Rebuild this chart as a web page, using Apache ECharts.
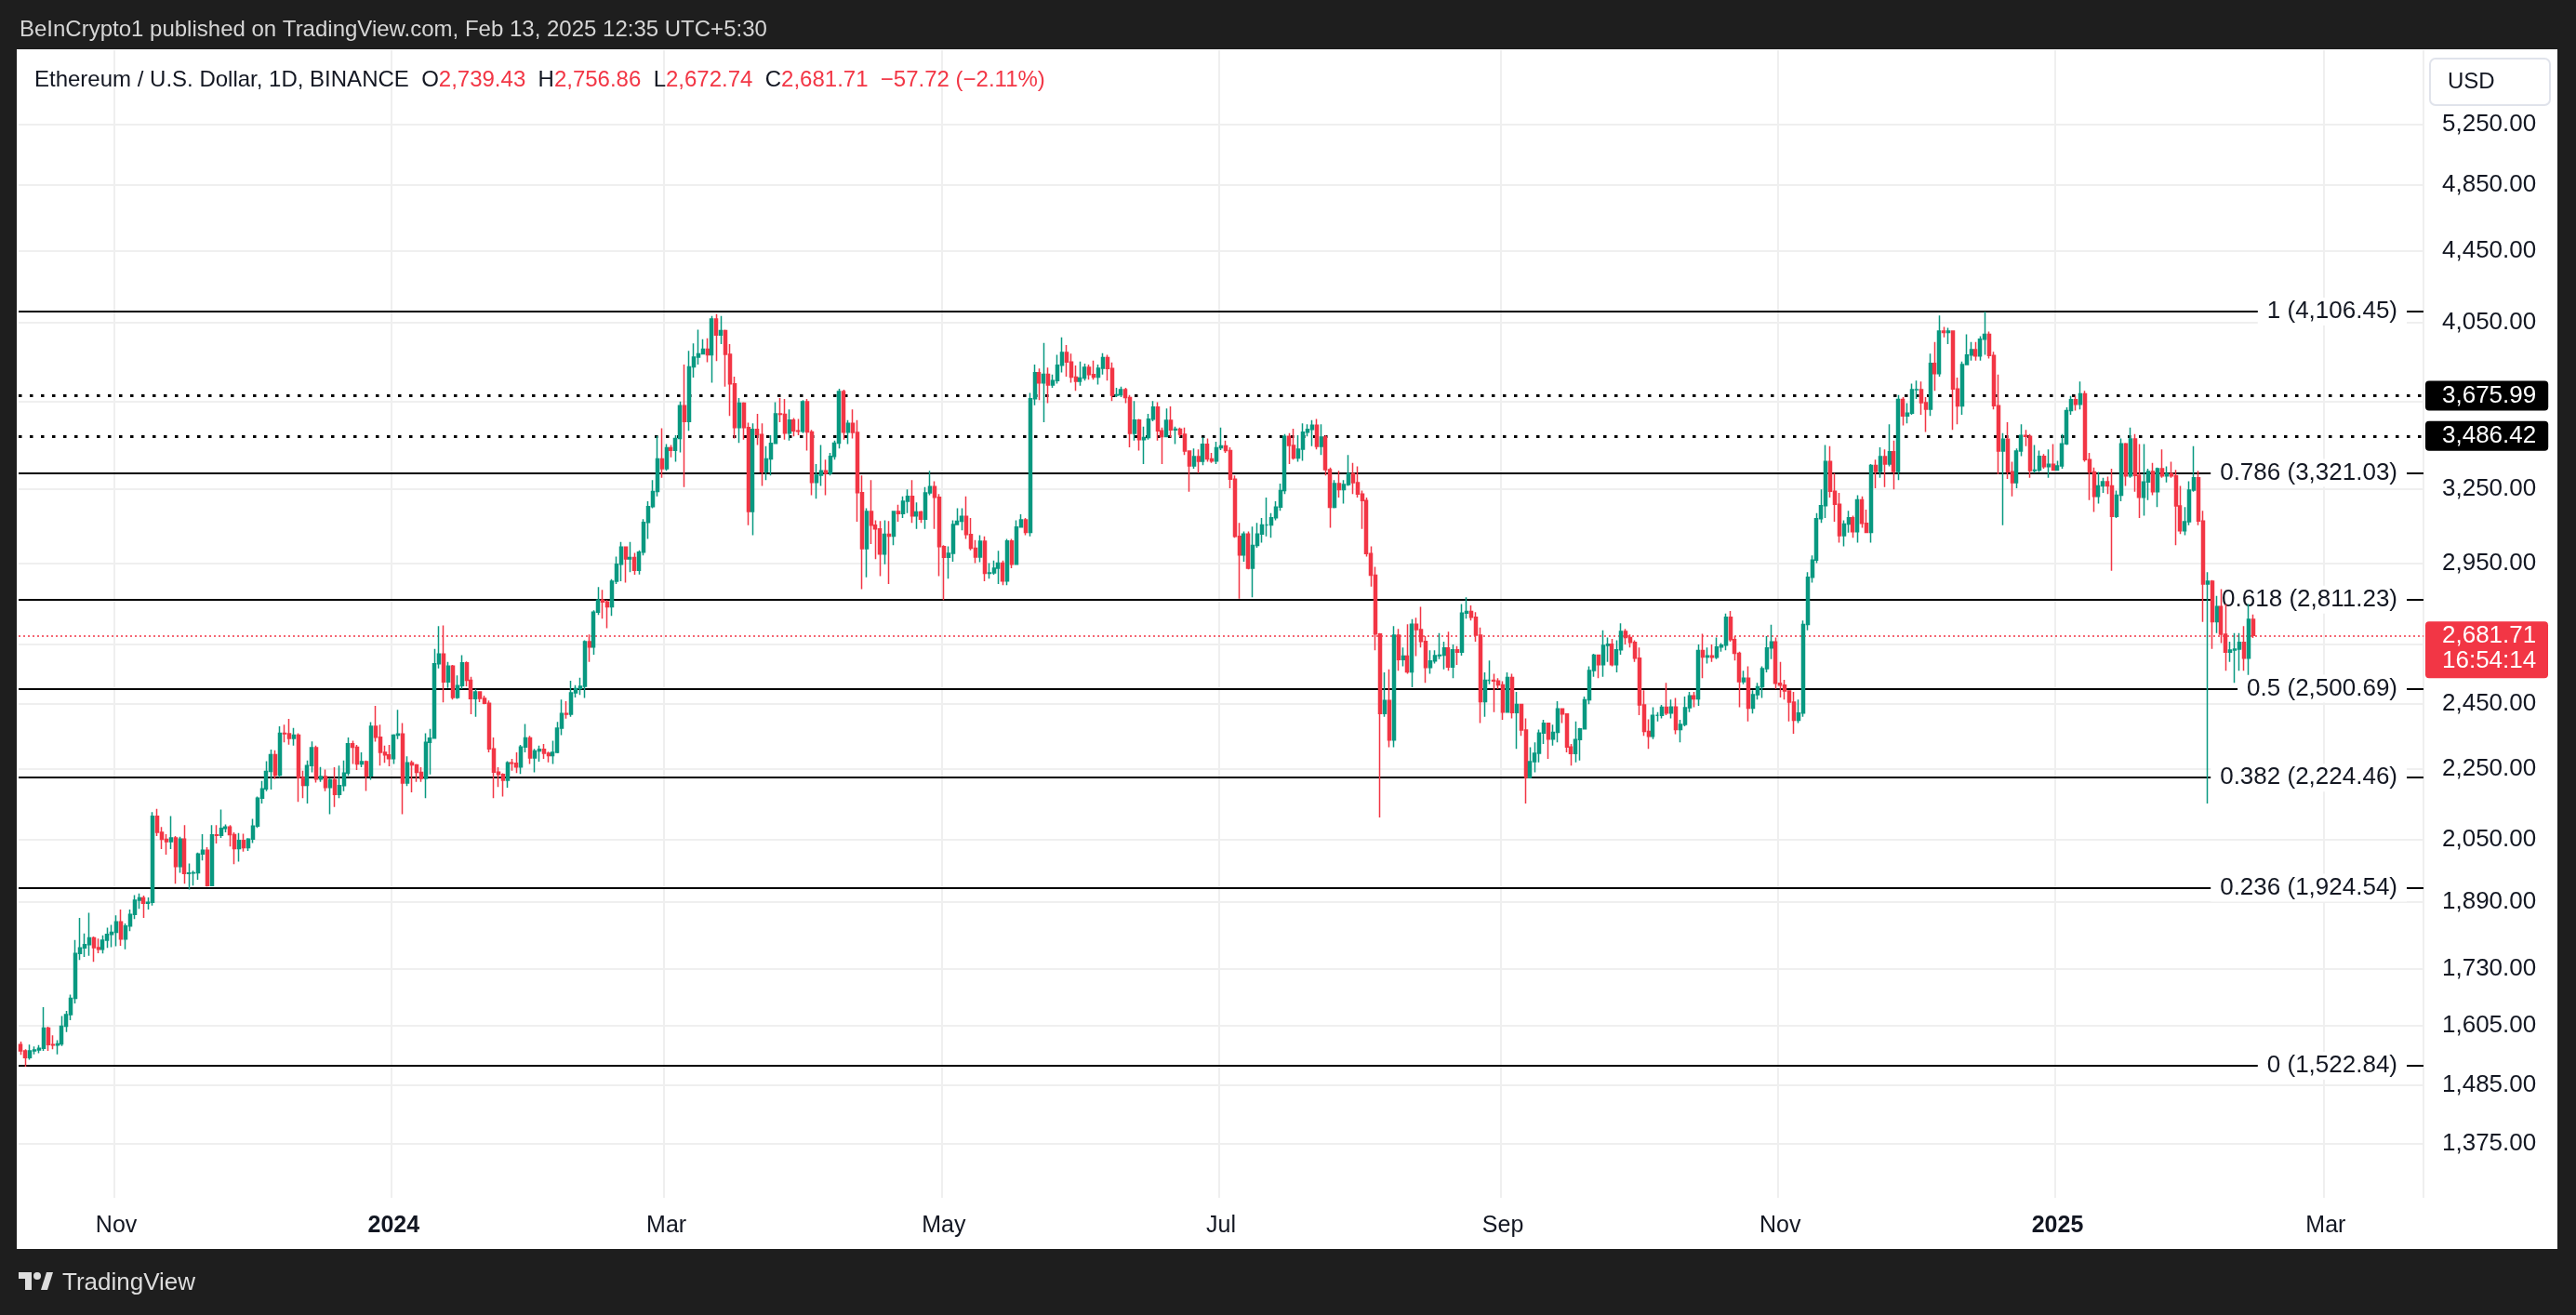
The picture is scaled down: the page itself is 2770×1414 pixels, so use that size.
<!DOCTYPE html>
<html>
<head>
<meta charset="utf-8">
<script src="https://cdn.jsdelivr.net/npm/echarts@6/dist/echarts.min.js"></script>
<style>
html,body{margin:0;padding:0;background:#1e1e1e;}
#c{width:2770px;height:1414px;}
</style>
</head>
<body>
<div id="c"></div>
<script>
// ---------------- DATA ----------------
const startDate = [2023, 10, 11];     // first candle (Y, M, D)
const totalSlots = 529;               // daily slots on the time axis (incl. empty future days)
const firstOpen = 1566;

// daily closes, Oct 11 2023 -> Feb 13 2025 (one row per month)
const closes = [
  1553,1539,1553,1555,1558,1600,1566,1565,1567,1604,1629,1664,1765,1778,1786,1802,1779,1775,1796,1810,1815,
  1840,1799,1830,1858,1893,1899,1886,1888,2114,2070,2051,2045,2055,1979,2052,1961,1962,1963,2012,2022,1930,2063,2062,2081,2085,2064,2026,2048,2029,2052,
  2087,2165,2192,2243,2293,2232,2358,2357,2342,2352,2225,2202,2260,2314,2220,2228,2196,2218,2176,2201,2238,2326,2315,2265,2272,2230,2380,2346,2300,2292,2281,
  2352,2356,2209,2268,2262,2240,2222,2330,2343,2584,2617,2523,2576,2472,2511,2587,2528,2468,2490,2469,2453,2310,2241,2234,2217,2268,2267,2256,2316,2344,2283,
  2304,2309,2297,2290,2300,2374,2420,2418,2487,2501,2508,2660,2641,2765,2810,2803,2785,2880,2945,3013,2966,2971,2922,2992,3112,3177,3241,3383,3340,
  3433,3421,3475,3628,3553,3818,3868,3884,3908,3880,4067,3982,4005,3882,3734,3525,3640,3525,3157,3517,3493,3326,3383,3453,3590,3587,3500,3560,3510,3508,3647,
  3505,3280,3311,3330,3319,3394,3454,3696,3504,3545,3503,3236,3006,3157,3100,3085,2985,3064,3056,3157,3148,3200,3220,3139,3155,3125,3235,3262,3216,3014,
  2972,2988,3103,3117,3137,3063,3008,2973,3036,2910,2912,2930,2950,2881,3037,2945,3093,3122,3071,3662,3789,3738,3781,3728,3750,3826,3891,3843,3767,3747,3763,
  3816,3780,3767,3811,3865,3810,3679,3681,3706,3667,3498,3560,3470,3479,3564,3621,3510,3484,3559,3515,3518,3494,3418,3352,3393,3372,3449,3383,3373,3433,
  3441,3420,3294,3055,2981,3065,2930,3019,3065,3101,3101,3131,3175,3245,3485,3443,3387,3427,3504,3517,3536,3439,3481,3336,3174,3275,3249,3271,3318,3279,3230,
  3203,2987,2903,2687,2420,2462,2337,2683,2598,2610,2556,2722,2703,2661,2571,2593,2612,2613,2638,2573,2632,2624,2762,2768,2747,2683,2458,2528,2528,2526,2513,
  2425,2538,2423,2449,2368,2225,2272,2297,2359,2389,2340,2361,2435,2419,2316,2296,2339,2372,2464,2561,2613,2581,2647,2651,2581,2632,2696,2675,2658,2603,
  2448,2364,2349,2414,2414,2440,2422,2441,2370,2386,2439,2477,2467,2629,2607,2611,2606,2641,2648,2747,2667,2620,2524,2535,2437,2481,2507,2567,2638,2659,2518,
  2512,2493,2457,2399,2422,2721,2895,2961,3127,3181,3371,3242,3187,3058,3105,3131,3074,3206,3108,3071,3354,3327,3393,3360,3415,3327,3658,3580,3593,3705,
  3706,3643,3612,3836,3784,4003,3995,4003,3709,3627,3830,3878,3906,3873,3960,3985,3876,3628,3418,3472,3326,3279,3418,3489,3485,3331,3333,3394,3349,3359,3333,
  3352,3451,3605,3657,3635,3685,3380,3325,3220,3265,3283,3265,3137,3225,3451,3308,3473,3310,3216,3282,3327,3240,3340,3308,3318,3308,3180,3078,3115,3247,3300,
  3118,2870,2880,2731,2786,2686,2624,2631,2634,2658,2603,2739.43,2681.71
];
const highs = [
  1572,1556,1566,1562,1565,1645,1603,1585,1575,1626,1637,1672,1797,1850,1812,1862,1805,1800,1808,1826,1833,
  1856,1870,1836,1870,1906,1910,1905,1900,2126,2135,2085,2065,2115,2060,2058,2090,1987,1968,2016,2065,2030,2090,2090,2133,2092,2090,2070,2068,2066,2054,
  2107,2170,2215,2273,2308,2306,2380,2385,2403,2375,2358,2245,2275,2333,2320,2256,2248,2224,2255,2260,2275,2345,2335,2322,2300,2275,2393,2445,2385,2320,2322,
  2355,2432,2390,2288,2275,2265,2255,2358,2372,2635,2715,2718,2590,2580,2545,2613,2592,2540,2500,2490,2478,2462,2345,2255,2237,2273,2280,2300,2322,2387,2350,
  2310,2320,2325,2302,2335,2394,2465,2460,2527,2512,2537,2665,2685,2772,2858,2848,2810,2888,2975,3033,3015,3033,2990,3000,3125,3200,3290,3487,3522,
  3450,3445,3490,3648,3830,3900,3938,4010,3960,3965,4083,4093,4083,4010,3935,3770,3665,3645,3548,3545,3590,3545,3440,3490,3645,3665,3660,3610,3570,3565,3655,
  3660,3515,3360,3445,3380,3410,3465,3710,3705,3560,3610,3560,3310,3170,3290,3120,3118,3120,3118,3160,3185,3220,3250,3290,3195,3160,3260,3330,3285,3230,
  3020,3015,3120,3170,3170,3220,3130,3040,3060,3055,2950,2960,2998,2960,3045,3045,3120,3145,3130,3690,3830,3810,3940,3815,3780,3880,3970,3930,3885,3825,3845,
  3835,3830,3850,3830,3888,3880,3840,3715,3720,3715,3680,3650,3565,3530,3590,3650,3645,3525,3615,3625,3530,3525,3525,3420,3430,3425,3480,3475,3410,3460,
  3525,3465,3435,3310,3110,3075,3075,3095,3110,3130,3215,3150,3200,3275,3495,3500,3520,3490,3545,3540,3560,3565,3540,3490,3345,3290,3330,3290,3400,3365,3350,
  3245,3215,3015,2935,2690,2555,2565,2715,2705,2640,2722,2740,2745,2785,2680,2630,2630,2690,2660,2695,2650,2645,2795,2820,2790,2765,2710,2555,2595,2550,2535,
  2525,2555,2550,2490,2450,2405,2315,2330,2370,2400,2390,2385,2460,2435,2420,2325,2395,2375,2475,2575,2618,2615,2700,2675,2670,2665,2725,2705,2685,2665,
  2640,2495,2402,2440,2425,2448,2520,2465,2470,2400,2475,2490,2490,2650,2688,2640,2650,2675,2655,2760,2770,2680,2625,2560,2575,2495,2520,2575,2680,2720,2675,
  2590,2530,2495,2490,2465,2735,2915,2980,3150,3250,3445,3440,3320,3235,3120,3160,3140,3225,3220,3165,3360,3380,3435,3425,3540,3465,3680,3670,3640,3735,
  3750,3745,3670,3885,3945,4085,4025,4020,4005,3765,3845,3985,3945,3945,3975,4106,4000,3895,3780,3500,3550,3370,3430,3540,3515,3495,3445,3420,3405,3425,3450,
  3375,3495,3620,3675,3675,3745,3700,3410,3345,3325,3300,3305,3340,3245,3475,3455,3525,3495,3450,3450,3340,3365,3345,3425,3350,3370,3335,3265,3175,3285,3440,
  3330,3160,2915,2885,2825,2850,2795,2660,2690,2690,2715,2795,2756.86
];
const lows = [
  1545,1521,1535,1546,1548,1553,1553,1556,1546,1563,1592,1617,1653,1750,1757,1760,1746,1766,1765,1778,1780,
  1782,1783,1775,1818,1847,1872,1850,1870,1880,2060,2025,2010,2025,1935,1963,1935,1920,1930,1945,1995,1928,1930,2040,2055,2070,2032,1985,1992,2018,2020,
  2041,2082,2150,2185,2190,2220,2224,2330,2323,2320,2155,2165,2150,2240,2210,2212,2185,2120,2140,2165,2185,2230,2265,2247,2255,2186,2218,2332,2260,2268,2258,
  2265,2340,2120,2200,2182,2212,2212,2165,2234,2342,2568,2456,2503,2465,2467,2500,2508,2418,2410,2457,2450,2300,2165,2197,2170,2195,2245,2238,2235,2300,2265,
  2240,2272,2280,2270,2265,2297,2352,2404,2410,2472,2480,2470,2590,2615,2755,2742,2708,2752,2870,2880,2875,2915,2905,2906,2980,3045,3170,3220,3300,
  3330,3390,3370,3412,3260,3510,3765,3830,3883,3842,3740,3847,3935,3720,3580,3475,3455,3470,3100,3060,3445,3265,3290,3310,3450,3550,3470,3465,3485,3490,3500,
  3420,3225,3210,3265,3225,3310,3380,3430,3470,3450,3475,3115,2850,2895,3025,2965,2900,2945,2870,3020,3115,3130,3150,3110,3085,3110,3085,3225,3085,2900,
  2810,2890,2955,3100,3080,3045,3000,2950,2953,2880,2890,2905,2870,2865,2865,2930,2945,3090,3060,3055,3630,3655,3550,3640,3715,3735,3790,3770,3740,3700,3725,
  3750,3755,3755,3730,3780,3750,3650,3670,3670,3640,3435,3465,3420,3360,3470,3555,3465,3360,3480,3480,3450,3480,3400,3240,3340,3320,3355,3370,3365,3360,
  3422,3410,3255,3050,2815,2955,2925,2820,3010,3030,3055,3050,3120,3160,3230,3360,3380,3370,3375,3485,3440,3425,3400,3310,3090,3170,3215,3190,3265,3230,3215,
  3085,2975,2860,2630,2111,2410,2315,2315,2560,2575,2550,2505,2610,2640,2520,2550,2585,2600,2565,2560,2535,2580,2612,2742,2735,2660,2390,2410,2515,2425,2500,
  2400,2425,2405,2310,2350,2150,2225,2240,2270,2325,2280,2320,2330,2390,2300,2260,2270,2275,2370,2450,2540,2535,2540,2590,2575,2555,2615,2650,2640,2590,
  2415,2350,2310,2340,2395,2405,2415,2405,2355,2330,2380,2425,2440,2445,2535,2585,2590,2600,2625,2630,2660,2595,2440,2515,2395,2420,2465,2470,2555,2600,2500,
  2472,2465,2395,2357,2390,2410,2700,2875,2950,3110,3130,3215,3115,3030,3015,3070,3050,3030,3090,3070,3030,3255,3300,3260,3350,3250,3290,3535,3545,3585,
  3660,3585,3505,3580,3700,3770,3970,3935,3515,3540,3585,3830,3850,3850,3850,3880,3860,3610,3315,3100,3295,3220,3255,3395,3440,3300,3320,3325,3340,3300,3330,
  3330,3340,3445,3585,3605,3610,3370,3205,3155,3190,3235,3230,2920,3130,3200,3265,3300,3240,3130,3140,3205,3225,3175,3300,3280,3300,3020,3065,3060,3100,3240,
  3100,2730,2150,2635,2690,2655,2560,2590,2520,2560,2560,2546,2672.74
];

const yLabelValues = [1375,1485,1605,1730,1890,2050,2250,2450,2950,3250,4050,4450,4850,5250];
const yGridValues  = [1375,1485,1605,1730,1890,2050,2250,2450,2650,2950,3250,3650,4050,4450,4850,5250];
const fibRatios = ['1','0.786','0.618','0.5','0.382','0.236','0'];
const fibPrices = [4106.45,3321.03,2811.23,2500.69,2224.46,1924.54,1522.84];
const levelPrices = [3675.99,3486.42];
const lastPrice = 2681.71;
const countdown = '16:54:14';
const ohlcValues = ['2,739.43','2,756.86','2,672.74','2,681.71'];
const changeText = '\u221257.72 (\u22122.11%)';
const monthNames = ['Jan','Feb','Mar','Apr','May','Jun','Jul','Aug','Sep','Oct','Nov','Dec'];

// ---------------- BUILD ----------------
const FONT = "'Liberation Sans', Arial, sans-serif";
const GREEN = '#089981', RED = '#F23645', INK = '#131722', DARK = '#1e1e1e';

const dates = [];
const t0 = Date.UTC(startDate[0], startDate[1]-1, startDate[2]);
for (let i = 0; i < totalSlots; i++) dates.push(new Date(t0 + i*86400000).toISOString().slice(0,10));

const candles = closes.map((c,i) => [i === 0 ? firstOpen : closes[i-1], c, lows[i], highs[i]]);

const fmt = v => Number(v).toLocaleString('en-US',{minimumFractionDigits:2, maximumFractionDigits:2});
const isLabelDay = v => v.slice(8) === '01' && (+v.slice(5,7)) % 2 === 1;

const markData = [];
fibPrices.forEach((p,i) => markData.push({
  yAxis: p,
  lineStyle: {color:'#000000', width:2, type:'solid'},
  label: {show:true, position:'insideEnd', distance:18, formatter: fibRatios[i] + ' (' + fmt(p) + ')',
          color: INK, fontSize:26, fontFamily: FONT, backgroundColor:'#ffffff', padding:[2,10,2,10]}
}));
levelPrices.forEach(p => markData.push({
  yAxis: p,
  lineStyle: {color:'#000000', width:3, type:[3.5,8.5]},
  label: {show:true, position:'end', distance:2, formatter: fmt(p), color:'#ffffff', backgroundColor:'#000000',
          fontSize:26, fontFamily: FONT, padding:[3,13,3,18], borderRadius:4}
}));
markData.push({yAxis: lastPrice, lineStyle:{color:RED, width:1.5, type:[2,3]}, label:{show:false}});

function buildGraphics(py) {
  const g = [
    {type:'rect', z:3, silent:true, shape:{x:0,y:0,width:2770,height:53}, style:{fill:DARK}},
    {type:'rect', z:3, silent:true, shape:{x:0,y:1343,width:2770,height:71}, style:{fill:DARK}},
    {type:'rect', z:3, silent:true, shape:{x:0,y:0,width:18,height:1414}, style:{fill:DARK}},
    {type:'rect', z:3, silent:true, shape:{x:2750,y:0,width:20,height:1414}, style:{fill:DARK}},
    {type:'rect', z:5, shape:{x:2613,y:63,width:129,height:50,r:6}, style:{fill:'#ffffff', stroke:'#e0e3eb', lineWidth:2}},
    {type:'text', z:6, style:{x:2632, y:88, text:'USD', fill:INK, font:'24px ' + FONT, textVerticalAlign:'middle'}},
    {type:'rect', z:6, shape:{x:20,y:1368,width:14,height:7}, style:{fill:'#dddddd'}},
    {type:'rect', z:6, shape:{x:27,y:1368,width:7,height:19}, style:{fill:'#dddddd'}},
    {type:'circle', z:6, shape:{cx:40,cy:1372,r:4}, style:{fill:'#dddddd'}},
    {type:'polygon', z:6, shape:{points:[[44,1387],[50,1368],[57,1368],[51,1387]]}, style:{fill:'#dddddd'}}
  ];
  if (py != null) {
    g.push({type:'rect', z:8, shape:{x:2608, y:py-15, width:132, height:61, r:4}, style:{fill:RED}});
    g.push({type:'text', z:9, style:{x:2626, y:py, text: fmt(lastPrice), fill:'#ffffff', font:'26px ' + FONT, textVerticalAlign:'middle'}});
    g.push({type:'text', z:9, style:{x:2626, y:py+27, text: countdown, fill:'#ffffff', font:'26px ' + FONT, textVerticalAlign:'middle'}});
  }
  return g;
}

const ohlcRich = '{n|Ethereum / U.S. Dollar, 1D, BINANCE  O}{r|' + ohlcValues[0] + '}{n|  H}{r|' + ohlcValues[1] +
  '}{n|  L}{r|' + ohlcValues[2] + '}{n|  C}{r|' + ohlcValues[3] + '}{r|  ' + changeText + '}';

function buildOption(py) {
  return {
    animation: false,
    backgroundColor: '#ffffff',
    textStyle: {fontFamily: FONT},
    title: [
      {text:'BeInCrypto1 published on TradingView.com, Feb 13, 2025 12:35 UTC+5:30', left:21, top:18, padding:0, z:10,
       textStyle:{color:'#d6d6d6', fontSize:24, fontWeight:'normal', fontFamily:FONT, lineHeight:28}},
      {text: ohlcRich, left:37, top:72, padding:0, z:10,
       textStyle:{fontSize:24, fontWeight:'normal', fontFamily:FONT, lineHeight:28,
         rich:{n:{color:INK, fontSize:24, fontFamily:FONT, lineHeight:28}, r:{color:RED, fontSize:24, fontFamily:FONT, lineHeight:28}}}},
      {text:'TradingView', left:67, top:1365, padding:0, z:10,
       textStyle:{color:'#dddddd', fontSize:26, fontWeight:'normal', fontFamily:FONT, lineHeight:30}}
    ],
    grid: {left:20, right:164, top:54, bottom:126, containLabel:false},
    xAxis: {
      type:'category', data: dates, boundaryGap:true,
      axisLine:{show:false}, axisTick:{show:false},
      axisLabel:{
        interval:(i,v) => isLabelDay(v), margin:18, fontSize:25, color:INK, fontFamily:FONT,
        formatter: v => { const m = +v.slice(5,7); return m === 1 ? '{b|' + v.slice(0,4) + '}' : monthNames[m-1]; },
        rich:{b:{fontWeight:'bold', fontSize:25, color:INK, fontFamily:FONT}}
      },
      splitLine:{show:true, interval:(i,v) => isLabelDay(v), lineStyle:{color:'#efefef', width:2}}
    },
    yAxis: {
      type:'log', logBase:10, min:1280, max:5791, position:'right',
      axisLine:{show:false},
      axisTick:{show:false, customValues: yGridValues},
      axisLabel:{customValues: yLabelValues, margin:20, align:'left', fontSize:26, color:INK, fontFamily:FONT,
                 formatter: v => fmt(Math.round(v))},
      splitLine:{show:true, lineStyle:{color:'#efefef', width:2}}
    },
    graphic: buildGraphics(py),
    series: [{
      type:'candlestick', name:'ETHUSD', data: candles, z:2,
      barWidth: 3.5,
      itemStyle:{color:GREEN, color0:RED, borderColor:GREEN, borderColor0:RED, borderWidth:1.5},
      markLine:{silent:true, symbol:['none','none'], z:1, animation:false, data: markData}
    }]
  };
}

const chart = echarts.init(document.getElementById('c'));
chart.setOption(buildOption(null));
const py = chart.convertToPixel({yAxisIndex:0}, lastPrice);
chart.setOption(buildOption(py), true);
</script>
</body>
</html>
